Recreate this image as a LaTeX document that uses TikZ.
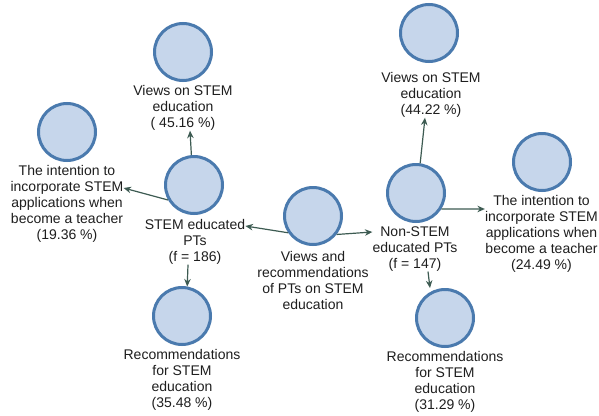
\documentclass[tikz,border=0pt]{standalone}
\usepackage{fontspec}
\setmainfont{Liberation Sans}
\usetikzlibrary{arrows.meta}
\definecolor{cfill}{HTML}{C6D6EB}
\definecolor{cline}{HTML}{4A7AAE}
\definecolor{arrc}{HTML}{3D5B52}
\definecolor{txt}{HTML}{1E1E1E}
\tikzset{
  bub/.style={circle, fill=cfill, draw=cline, line width=3pt, minimum size=57pt, inner sep=0pt},
  lbl/.style={align=center, inner sep=0pt, text=txt, font=\fontsize{14}{16}\selectfont},
  arr/.style={draw=arrc, line width=1.2pt, -{Stealth[length=7.5pt,width=6.5pt]}}
}
\begin{document}
\begin{tikzpicture}[x=1pt,y=-1pt]
\useasboundingbox (0,0) rectangle (599,415);
\fill[white] (0,0) rectangle (599,415);
% circles
\node[bub] (sv) at (183,52) {};
\node[bub] (si) at (67,132) {};
\node[bub] (s)  at (194,185) {};
\node[bub] (sr) at (182,316) {};
\node[bub] (c)  at (313,216) {};
\node[bub] (n)  at (416,193) {};
\node[bub] (nv) at (429,33) {};
\node[bub] (ni) at (542,162) {};
\node[bub] (nr) at (445,318) {};
% labels
\node[lbl] (svl) at (183,108) {Views on STEM\\education\\( 45.16 \%)};
\node[lbl] (sil) at (67,204) {The intention to\\incorporate STEM\\applications when\\become a teacher\\(19.36 \%)};
\node[lbl] (stl) at (195,242) {STEM educated\\PTs\\(f = 186)};
\node[lbl] (srl) at (182,380) {Recommendations\\for STEM\\education\\(35.48 \%)};
\node[lbl] (cl)  at (313,280) {Views and\\recommendations\\of PTs on STEM\\education};
\node[lbl] (nl)  at (415,249) {Non-STEM\\educated PTs\\(f = 147)};
\node[lbl] (nvl) at (431,95) {Views on STEM\\education\\(44.22 \%)};
\node[lbl] (nil) at (541.5,234) {The intention to\\incorporate STEM\\applications when\\become a teacher\\(24.49 \%)};
\node[lbl] (nrl) at (445,382) {Recommendations\\for STEM\\education\\(31.29 \%)};
% connectors
\draw[arr] (s.95) -- ([xshift=7pt]svl.south);
\draw[arr] (s.210) -- ([yshift=16pt]sil.east);
\draw[arr] ([xshift=-7pt]stl.south) -- (sr.80);
\draw[arr] (c.214) -- ([yshift=16pt]stl.east);
\draw[arr] (c.322) -- ([yshift=17pt]nl.west);
\draw[arr] (n.82) -- ([xshift=-6pt]nvl.south);
\draw[arr] (n.328) -- ([yshift=25pt]nil.west);
\draw[arr] ([xshift=13pt]nl.south) -- ([xshift=-15pt]nr.north);
\end{tikzpicture}
\end{document}
